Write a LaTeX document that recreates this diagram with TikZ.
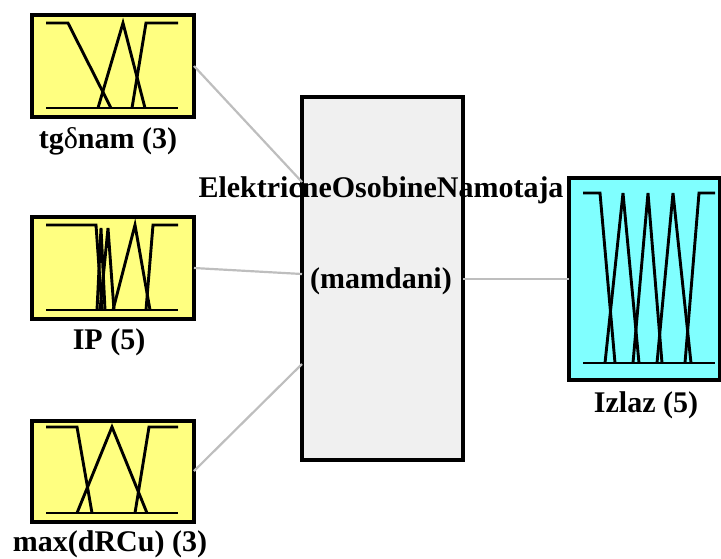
\documentclass[tikz,border=0pt]{standalone}
\usepackage{fontspec}
\setmainfont{Liberation Serif}
\definecolor{mfyellow}{RGB}{255,255,128}
\definecolor{mfcyan}{RGB}{128,255,255}
\definecolor{sysgray}{RGB}{240,240,240}
\definecolor{wiregray}{RGB}{190,190,190}
\begin{document}
\begin{tikzpicture}[x=1pt,y=-1pt,
  mfbox/.style={draw=black,line width=3.3pt,fill=mfyellow},
  outbox/.style={draw=black,line width=3.3pt,fill=mfcyan},
  sysbox/.style={draw=black,line width=3.3pt,fill=sysgray},
  mf/.style={line width=2.9pt,line join=miter},
  wire/.style={draw=wiregray,line width=2.2pt},
  lbl/.style={font=\fontsize{30}{34}\selectfont\bfseries,inner sep=0pt}]
\useasboundingbox (0,0) rectangle (721,558);
% input boxes
\draw[mfbox] (32,15) rectangle (194,117);
\coordinate (in1) at (194,66);
\draw[mfbox] (32,217) rectangle (194,319);
\coordinate (in2) at (194,268);
\draw[mfbox] (32,421) rectangle (194,522);
\coordinate (in3) at (194,471);
% system box
\draw[sysbox] (302,97) rectangle (463,460);
\coordinate (s1) at (302,182);
\coordinate (s2) at (302,274);
\coordinate (s3) at (302,364);
\coordinate (so) at (463,279);
% output box
\draw[outbox] (569,178) rectangle (720,380);
\coordinate (o1) at (569,279);
% wires
\draw[wire] (in1) -- (s1);
\draw[wire] (in2) -- (s2);
\draw[wire] (in3) -- (s3);
\draw[wire] (so) -- (o1);
% MFs box 1
\draw[mf] (46,108) -- (178,108);
\draw[mf] (46,23) -- (68,23) -- (111,108);
\draw[mf] (98,108) -- (123,23) -- (145,108);
\draw[mf] (132,108) -- (146,23) -- (178,23);
% MFs box 2
\draw[mf] (46,310) -- (178,310);
\draw[mf] (46,225) -- (96,225) -- (102,310);
\draw[mf] (97,310) -- (101,228) -- (105,310);
\draw[mf] (100,310) -- (108,228) -- (114,310);
\draw[mf] (113,310) -- (135,225) -- (150,310);
\draw[mf] (146,310) -- (153,225) -- (178,225);
% MFs box 3
\draw[mf] (46,513) -- (178,513);
\draw[mf] (46,427) -- (77,427) -- (92,513);
\draw[mf] (77,513) -- (112,427) -- (147,513);
\draw[mf] (135,513) -- (149,427) -- (178,427);
% MFs output
\draw[mf] (583,363) -- (715,363);
\draw[mf] (583,193) -- (600,193) -- (615,363);
\draw[mf] (605,363) -- (623,193) -- (639,363);
\draw[mf] (633,363) -- (648,193) -- (662,363);
\draw[mf] (657,363) -- (673,193) -- (691,363);
\draw[mf] (685,363) -- (699,193) -- (715,193);
% labels
\node[lbl] (l1) at (108,141) {tg\textmd{δ}nam (3)};
\node[lbl] (l2) at (109,342) {IP (5)};
\node[lbl] (l3) at (110,544) {max(dRCu) (3)};
\node[lbl] (l4) at (646,405) {Izlaz (5)};
\node[lbl,anchor=base] (t1) at (381,197) {ElektricneOsobineNamotaja};
\node[lbl] (t2) at (381,281) {(mamdani)};
\end{tikzpicture}
\end{document}
